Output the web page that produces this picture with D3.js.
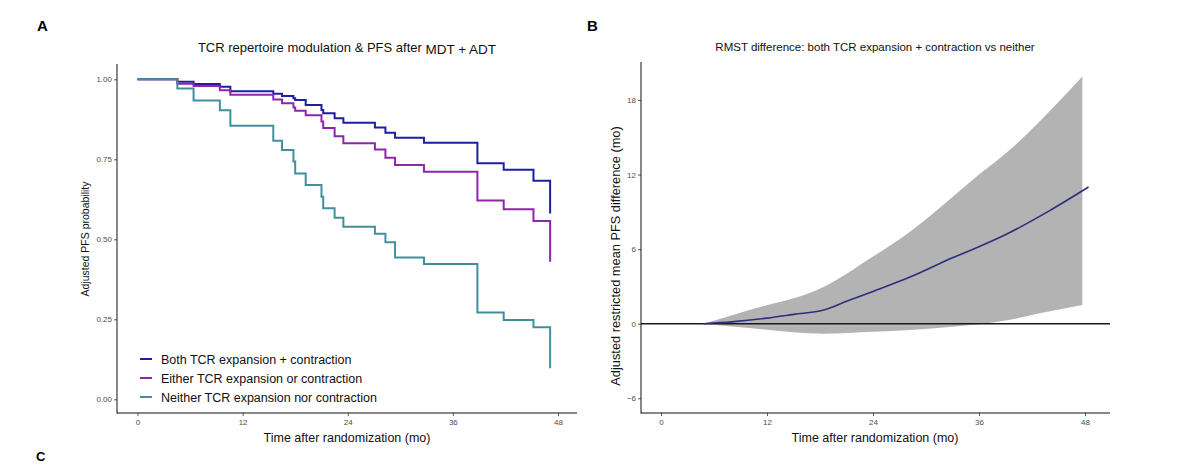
<!DOCTYPE html>
<html>
<head>
<meta charset="utf-8">
<script src="https://cdn.jsdelivr.net/npm/d3@7"></script>
<style>
html,body{margin:0;padding:0;background:#fff;}
svg{display:block;font-family:"Liberation Sans",Arial,Helvetica,sans-serif;}
</style>
</head>
<body>
<svg id="chart" width="1200" height="466"></svg>
<script>
// ---------- Panel A data: adjusted PFS step curves ----------
const timesA = [0, 4.55, 6.4, 9.4, 10.6, 15.5, 16.5, 17.8, 18.0, 19.2, 21.0, 21.2, 22.5, 23.5, 27.1, 28.3, 29.4, 32.7, 38.8, 41.8, 45.2, 47.1];
const bothPFS    = [1, 0.992, 0.985, 0.977, 0.963, 0.955, 0.948, 0.941, 0.935, 0.920, 0.904, 0.894, 0.878, 0.864, 0.849, 0.833, 0.817, 0.802, 0.738, 0.717, 0.683, 0.581];
const eitherPFS  = [1, 0.986, 0.979, 0.966, 0.952, 0.937, 0.925, 0.912, 0.902, 0.888, 0.868, 0.848, 0.822, 0.800, 0.781, 0.755, 0.732, 0.711, 0.621, 0.594, 0.557, 0.430];
const neitherPFS = [1, 0.971, 0.934, 0.903, 0.855, 0.808, 0.779, 0.743, 0.706, 0.670, 0.633, 0.597, 0.567, 0.539, 0.517, 0.491, 0.443, 0.423, 0.271, 0.248, 0.225, 0.097];
const seriesNames = ["Both TCR expansion + contraction", "Either TCR expansion or contraction", "Neither TCR expansion nor contraction"];
const xTicks = [0, 12, 24, 36, 48];
const yTicksA = [0, 0.25, 0.5, 0.75, 1];

// ---------- Panel B data: RMST difference ----------
const bandT     = [4.8, 10, 18.4, 24, 28.2, 33, 36, 39.5, 43.3, 47.7];
const bandUpper = [0, 1.1, 2.95, 5.4, 7.4, 10.2, 12.0, 14.0, 16.6, 19.9];
const bandLower = [0, -0.35, -0.8, -0.65, -0.5, -0.25, -0.05, 0.32, 0.9, 1.5];
const meanT     = [4.8, 8, 12, 15, 18.4, 21, 24, 28.2, 33, 36, 39.1, 44, 48.4];
const meanDiff  = [0, 0.15, 0.45, 0.75, 1.1, 1.8, 2.6, 3.75, 5.3, 6.2, 7.2, 9.1, 11.0];
const yTicksB = [-6, 0, 6, 12, 18];

const colors = ["#1f1f9e", "#8e26aa", "#40909c"];

const svg = d3.select("#chart");
svg.append("rect").attr("width",1200).attr("height",466).attr("fill","#fff");

function styleAxis(g){
  g.select(".domain").remove();
  g.selectAll(".tick line").attr("stroke","#333").attr("stroke-width",0.8);
  g.selectAll(".tick text").attr("fill","#4d4d4d").attr("font-size","8px")
    .attr("font-family",'"Liberation Sans",Arial,sans-serif');
}

// ================= Panel A =================
const A = {left:117, right:577, top:64, bottom:413};
const xA = d3.scaleLinear().domain([0,48]).range([137.5,558]);
const yA = d3.scaleLinear().domain([0,1]).range([399.3,79.3]);

svg.append("text").attr("x",37).attr("y",31).attr("font-size","15px").attr("font-weight","bold").text("A");

const tA = svg.append("text").attr("x",347).attr("y",52).attr("text-anchor","middle").attr("font-size","13px").attr("fill","#111");
tA.append("tspan").text("TCR repertoire modulation & PFS after ");
tA.append("tspan").attr("dy",2).attr("font-size","13.5px").text("MDT + ADT");

const seriesA = [bothPFS, eitherPFS, neitherPFS];
const lineA = d3.line().x((d,i)=>xA(timesA[i])).y(d=>yA(d)).curve(d3.curveStepAfter);
seriesA.forEach((s,k)=>{
  svg.append("path").datum(s).attr("d",lineA).attr("fill","none")
    .attr("stroke",colors[k]).attr("stroke-width",2);
});

svg.append("g").attr("transform",`translate(0,${A.bottom})`)
  .call(d3.axisBottom(xA).tickValues(xTicks).tickSize(3).tickPadding(3)).call(styleAxis);
svg.append("g").attr("transform",`translate(${A.left},0)`)
  .call(d3.axisLeft(yA).tickValues(yTicksA).tickFormat(d3.format(".2f")).tickSize(3).tickPadding(2)).call(styleAxis);
svg.append("line").attr("x1",A.left).attr("x2",A.left).attr("y1",A.top).attr("y2",A.bottom+0.5).attr("stroke","#111").attr("stroke-width",1);
svg.append("line").attr("x1",A.left).attr("x2",A.right).attr("y1",A.bottom).attr("y2",A.bottom).attr("stroke","#111").attr("stroke-width",1);

svg.append("text").attr("x",347).attr("y",442).attr("text-anchor","middle").attr("font-size","12.5px").attr("fill","#111")
  .text("Time after randomization (mo)");
svg.append("text").attr("transform","translate(89,239) rotate(-90)").attr("text-anchor","middle").attr("font-size","10.5px").attr("fill","#111")
  .text("Adjusted PFS probability");

// legend
const legY = [359, 378, 397];
seriesNames.forEach((n,k)=>{
  svg.append("line").attr("x1",140).attr("x2",152).attr("y1",legY[k]).attr("y2",legY[k]).attr("stroke",colors[k]).attr("stroke-width",2);
  svg.append("text").attr("x",161).attr("y",legY[k]+4.5).attr("font-size","12.5px").attr("fill","#111").text(n);
});

// ================= Panel B =================
const B = {left:641, right:1110, top:62, bottom:413};
const xB = d3.scaleLinear().domain([0,48]).range([661,1085]);
const yB = d3.scaleLinear().domain([0,18]).range([323.7,100]);

svg.append("text").attr("x",587).attr("y",31).attr("font-size","15px").attr("font-weight","bold").text("B");
svg.append("text").attr("x",875).attr("y",51).attr("text-anchor","middle").attr("font-size","11.5px").attr("fill","#111")
  .text("RMST difference: both TCR expansion + contraction vs neither");

const area = d3.area().x((d,i)=>xB(bandT[i])).y0((d,i)=>yB(bandLower[i])).y1(d=>yB(d)).curve(d3.curveMonotoneX);
svg.append("path").datum(bandUpper).attr("d",area).attr("fill","#b3b3b3");

svg.append("line").attr("x1",B.left).attr("x2",B.right).attr("y1",yB(0)).attr("y2",yB(0)).attr("stroke","#1a1a1a").attr("stroke-width",1.4);

const meanLine = d3.line().x((d,i)=>xB(meanT[i])).y(d=>yB(d)).curve(d3.curveMonotoneX);
svg.append("path").datum(meanDiff).attr("d",meanLine).attr("fill","none").attr("stroke","#2e2e80").attr("stroke-width",1.6);

svg.append("g").attr("transform",`translate(0,${B.bottom})`)
  .call(d3.axisBottom(xB).tickValues(xTicks).tickSize(3).tickPadding(3)).call(styleAxis);
svg.append("g").attr("transform",`translate(${B.left},0)`)
  .call(d3.axisLeft(yB).tickValues(yTicksB).tickSize(3).tickPadding(2)).call(styleAxis);
svg.append("line").attr("x1",B.left).attr("x2",B.left).attr("y1",B.top).attr("y2",B.bottom+0.5).attr("stroke","#111").attr("stroke-width",1);
svg.append("line").attr("x1",B.left).attr("x2",B.right).attr("y1",B.bottom).attr("y2",B.bottom).attr("stroke","#111").attr("stroke-width",1);

svg.append("text").attr("x",875).attr("y",442).attr("text-anchor","middle").attr("font-size","12.5px").attr("fill","#111")
  .text("Time after randomization (mo)");
svg.append("text").attr("transform","translate(620,256) rotate(-90)").attr("text-anchor","middle").attr("font-size","12.8px").attr("fill","#111")
  .text("Adjusted restricted mean PFS difference (mo)");

// next panel label at the bottom edge
svg.append("text").attr("x",36).attr("y",461).attr("font-size","13px").attr("font-weight","bold").text("C");
</script>
</body>
</html>
